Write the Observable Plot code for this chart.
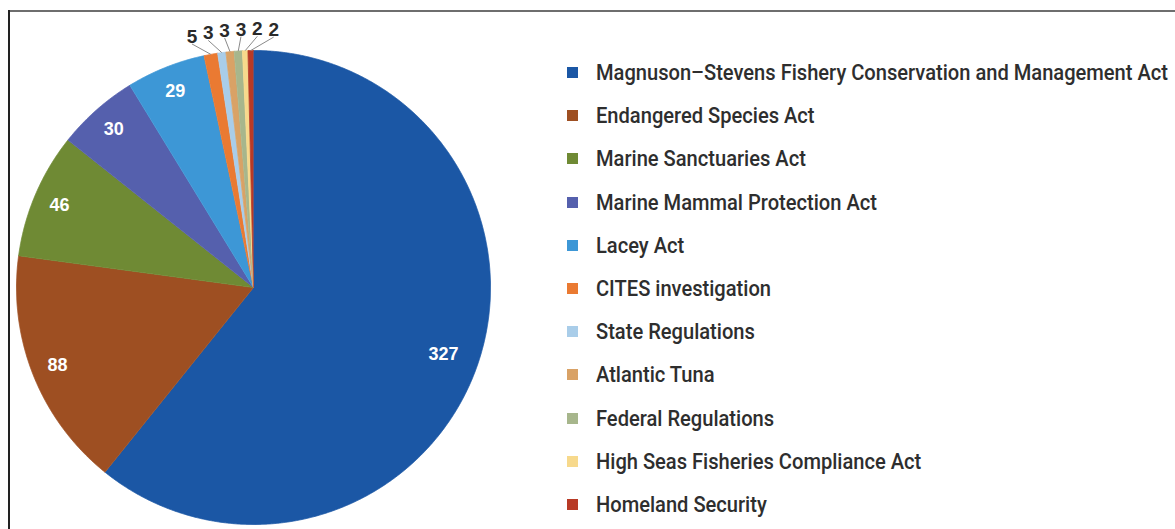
<!DOCTYPE html>
<html><head><meta charset="utf-8">
<script src="https://cdn.jsdelivr.net/npm/d3@7"></script>
<script src="https://cdn.jsdelivr.net/npm/@observablehq/plot@0.6"></script>
<style>
html,body{margin:0;padding:0;background:#fff;}
#wrap{position:relative;width:1175px;height:529px;overflow:hidden;background:#fff;}
#plot{position:absolute;left:0;top:0;}
.bt{position:absolute;left:8px;top:10px;width:1167px;height:2px;background:#6e6e6e;}
.bl{position:absolute;left:8px;top:10px;width:2px;height:519px;background:#222;}
.row{position:absolute;left:567px;height:24px;white-space:nowrap;}
.sw{position:absolute;left:0;top:6px;width:11px;height:11px;}
.lab{position:absolute;left:29px;top:0;line-height:24px;font-family:Roboto,"Liberation Sans",sans-serif;font-weight:500;color:#2e2e2e;transform-origin:0 50%;}
</style></head><body><div id="wrap"><div id="plot"></div><div class="bt"></div><div class="bl"></div></div>
<script>
const categories = [
  "Magnuson–Stevens Fishery Conservation and Management Act",
  "Endangered Species Act",
  "Marine Sanctuaries Act",
  "Marine Mammal Protection Act",
  "Lacey Act",
  "CITES investigation",
  "State Regulations",
  "Atlantic Tuna",
  "Federal Regulations",
  "High Seas Fisheries Compliance Act",
  "Homeland Security"
];
const counts = [327, 88, 46, 30, 29, 5, 3, 3, 3, 2, 2];
const colors = ["#1b57a5", "#9e4f22", "#6f8a34", "#5560ad", "#3d97d6", "#ea7a32",
                "#a9cde9", "#d9a266", "#a7b68c", "#f7d98c", "#b83a26"];

const arcs = d3.pie().sort(null).value(d => d)(counts);

// slice polygons in unit coordinates
const poly = [];
arcs.forEach((a, i) => {
  const n = Math.max(2, Math.ceil((a.endAngle - a.startAngle) / 0.004));
  poly.push({slice: i, x: 0, y: 0, c: colors[i]});
  for (let k = 0; k <= n; k++) {
    const t = a.startAngle + (a.endAngle - a.startAngle) * k / n;
    poly.push({slice: i, x: Math.sin(t), y: Math.cos(t), c: colors[i]});
  }
});

const mid = a => (a.startAngle + a.endAngle) / 2;
const big = arcs.map((a, i) => ({i, a})).filter(d => counts[d.i] >= 20)
  .map(d => {
    const r = d.i === 0 ? 0.85 : 0.89;
    return {x: r * Math.sin(mid(d.a)), y: r * Math.cos(mid(d.a)), v: counts[d.i]};
  });

const smallIdx = arcs.map((a, i) => i).filter(i => counts[i] < 20);
const midXs = smallIdx.map(i => Math.sin(mid(arcs[i])));
const cx = d3.mean(midXs);
const spacing = 0.069, rl = 1.06;
const small = smallIdx.map((i, k) => {
  const lx = cx + (k - (smallIdx.length - 1) / 2) * spacing;
  const m = mid(arcs[i]);
  return {v: counts[i], x1: Math.sin(m), y1: Math.cos(m), x2: lx, y2: Math.sqrt(rl * rl - lx * lx)};
});

const font = '"Liberation Sans", Arial, sans-serif';
const plot = Plot.plot({
  width: 500, height: 529, margin: 0,
  x: {domain: [-1, 1], range: [16, 490], axis: null},
  y: {domain: [-1, 1], range: [524, 50], axis: null},
  style: {background: "transparent", fontFamily: font},
  marks: [
    Plot.line(poly, {x: "x", y: "y", z: "slice", fill: "c", stroke: "c", strokeWidth: 0.8, curve: "linear"}),
    Plot.link(small, {x1: "x1", y1: "y1", x2: "x2", y2: "y2", stroke: "#8a8a8a", strokeWidth: 1}),
    Plot.text(small, {x: "x2", y: "y2", text: d => String(d.v), lineAnchor: "bottom", dy: -1,
      fill: "#2a2a2a", fontWeight: "bold", fontSize: 19, fontFamily: font}),
    Plot.text(big, {x: "x", y: "y", text: d => String(d.v), fill: "white",
      fontWeight: "bold", fontSize: 18, fontFamily: font})
  ]
});
document.getElementById("plot").appendChild(plot);

// legend
const wrap = document.getElementById("wrap");
const fs = 22;
const labs = [];
categories.forEach((c, i) => {
  const row = document.createElement("div");
  row.className = "row";
  row.style.top = (73 + i * 43.2 - 12) + "px";
  const sw = document.createElement("div");
  sw.className = "sw"; sw.style.background = colors[i];
  const lab = document.createElement("span");
  lab.className = "lab"; lab.textContent = c; lab.style.fontSize = fs + "px";
  row.appendChild(sw); row.appendChild(lab);
  wrap.appendChild(row);
  labs.push(lab);
});
const w0 = labs[0].getBoundingClientRect().width;
const k = w0 > 0 ? Math.min(1, 572 / w0) : 0.8;
labs.forEach(l => { l.style.transform = `scaleX(${k})`; });
</script>
</body></html>
